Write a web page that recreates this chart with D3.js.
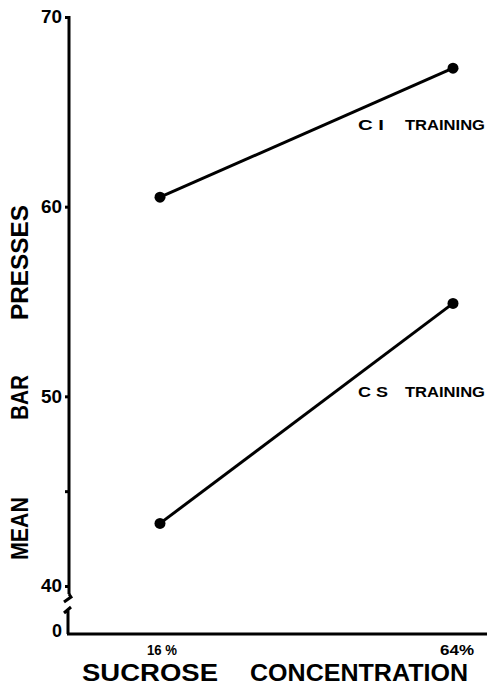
<!DOCTYPE html>
<html>
<head>
<meta charset="utf-8">
<script src="https://cdn.jsdelivr.net/npm/d3@7"></script>
<style>
  html, body { margin: 0; padding: 0; background: #fff; }
  svg { display: block; }
  text { font-family: "Liberation Sans", Arial, sans-serif; font-weight: bold; fill: #000; }
</style>
</head>
<body>
<svg id="chart"></svg>
<script>
(function () {

    // data
    var concentrations = [16, 64];
    var categoryLabels = ["16 %", "64%"];
    var ciTraining = [60.5, 67.3];
    var csTraining = [43.3, 54.9];
    var yTicks = [40, 45, 50, 60, 70];
    var yLabelled = [40, 50, 60, 70];

    var width = 487;
    var height = 687;
    var axisX = 69;
    var zeroY = 634;

    var svg = d3.select("#chart")
        .attr("width", width)
        .attr("height", height);

    var xScale = d3.scaleLinear()
        .domain([16, 64])
        .range([160, 453]);
    var yScale = d3.scaleLinear()
        .domain([40, 70])
        .range([586, 17]);

    // spread a word over a fixed length, like the hand lettering
    function word(g, txt, x, y, len, size) {
        return g.append("text")
            .attr("x", x)
            .attr("y", y)
            .attr("textLength", len)
            .attr("lengthAdjust", "spacingAndGlyphs")
            .style("font-size", size + "px")
            .text(txt);
    }

    // y axis, broken above zero
    svg.append("line")
        .attr("x1", axisX).attr("x2", axisX)
        .attr("y1", yScale(70) - 1).attr("y2", 594)
        .attr("stroke", "#000").attr("stroke-width", 3);
    svg.append("path")
        .attr("d", "M" + axisX + ",594 L" + (axisX + 2) + ",597 L" + (axisX - 5) + ",602")
        .attr("fill", "none").attr("stroke", "#000").attr("stroke-width", 3);
    svg.append("path")
        .attr("d", "M" + (axisX - 5) + ",613 L" + (axisX + 2) + ",607 M" + (axisX - 1) + ",610 L" + (axisX - 1) + "," + zeroY)
        .attr("fill", "none").attr("stroke", "#000").attr("stroke-width", 3);

    var yAxis = d3.axisLeft(yScale)
        .tickValues(yTicks)
        .tickSize(4)
        .tickFormat("");
    var yG = svg.append("g")
        .attr("transform", "translate(" + axisX + ",0)")
        .call(yAxis);
    yG.select(".domain").remove();
    yG.selectAll(".tick line").attr("stroke-width", 3);

    svg.selectAll("text.ylab")
        .data(yLabelled)
        .enter()
        .append("text")
        .attr("class", "ylab")
        .attr("x", axisX - 28)
        .attr("y", function (d) { return yScale(d); })
        .attr("dy", "0.36em")
        .attr("textLength", 21)
        .attr("lengthAdjust", "spacingAndGlyphs")
        .style("font-size", "18px")
        .text(function (d) { return d; });

    svg.append("text")
        .attr("x", axisX - 7)
        .attr("y", zeroY)
        .attr("text-anchor", "end")
        .attr("dy", "0.15em")
        .style("font-size", "18px")
        .text("0");

    // x axis
    svg.append("line")
        .attr("x1", axisX - 2).attr("x2", width)
        .attr("y1", zeroY).attr("y2", zeroY)
        .attr("stroke", "#000").attr("stroke-width", 3);

    svg.selectAll("text.cat")
        .data(concentrations)
        .enter()
        .append("text")
        .attr("class", "cat")
        .attr("x", function (d) { return xScale(d) - 13; })
        .attr("y", 655)
        .attr("textLength", function (d, i) { return i === 0 ? 30 : 34; })
        .attr("lengthAdjust", "spacingAndGlyphs")
        .style("font-size", "15px")
        .text(function (d, i) { return categoryLabels[i]; });

    // axis titles
    word(svg, "SUCROSE", 82, 681, 136, 23);
    word(svg, "CONCENTRATION", 250, 681, 218, 23);

    var yTitle = svg.append("g")
        .attr("transform", "translate(28,0) rotate(-90)");
    word(yTitle, "MEAN", -560, 0, 63, 23);
    word(yTitle, "BAR", -420, 0, 45, 23);
    word(yTitle, "PRESSES", -320, 0, 115, 23);

    // lines and points
    var line = d3.line()
        .x(function (d, i) { return xScale(concentrations[i]); })
        .y(function (d) { return yScale(d); });

    [ciTraining, csTraining].forEach(function (series) {
        svg.append("path")
            .attr("d", line(series))
            .attr("fill", "none")
            .attr("stroke", "#000")
            .attr("stroke-width", 3);
        svg.selectAll(null)
            .data(series)
            .enter()
            .append("circle")
            .attr("cx", function (d, i) { return xScale(concentrations[i]); })
            .attr("cy", function (d) { return yScale(d); })
            .attr("r", 5.5)
            .attr("fill", "#000");
    });

    // series labels
    word(svg, "C I", 358, 130, 26, 14);
    word(svg, "TRAINING", 405, 130, 80, 14);
    word(svg, "C S", 358, 397, 30, 14);
    word(svg, "TRAINING", 405, 397, 80, 14);

})();
</script>
</body>
</html>
